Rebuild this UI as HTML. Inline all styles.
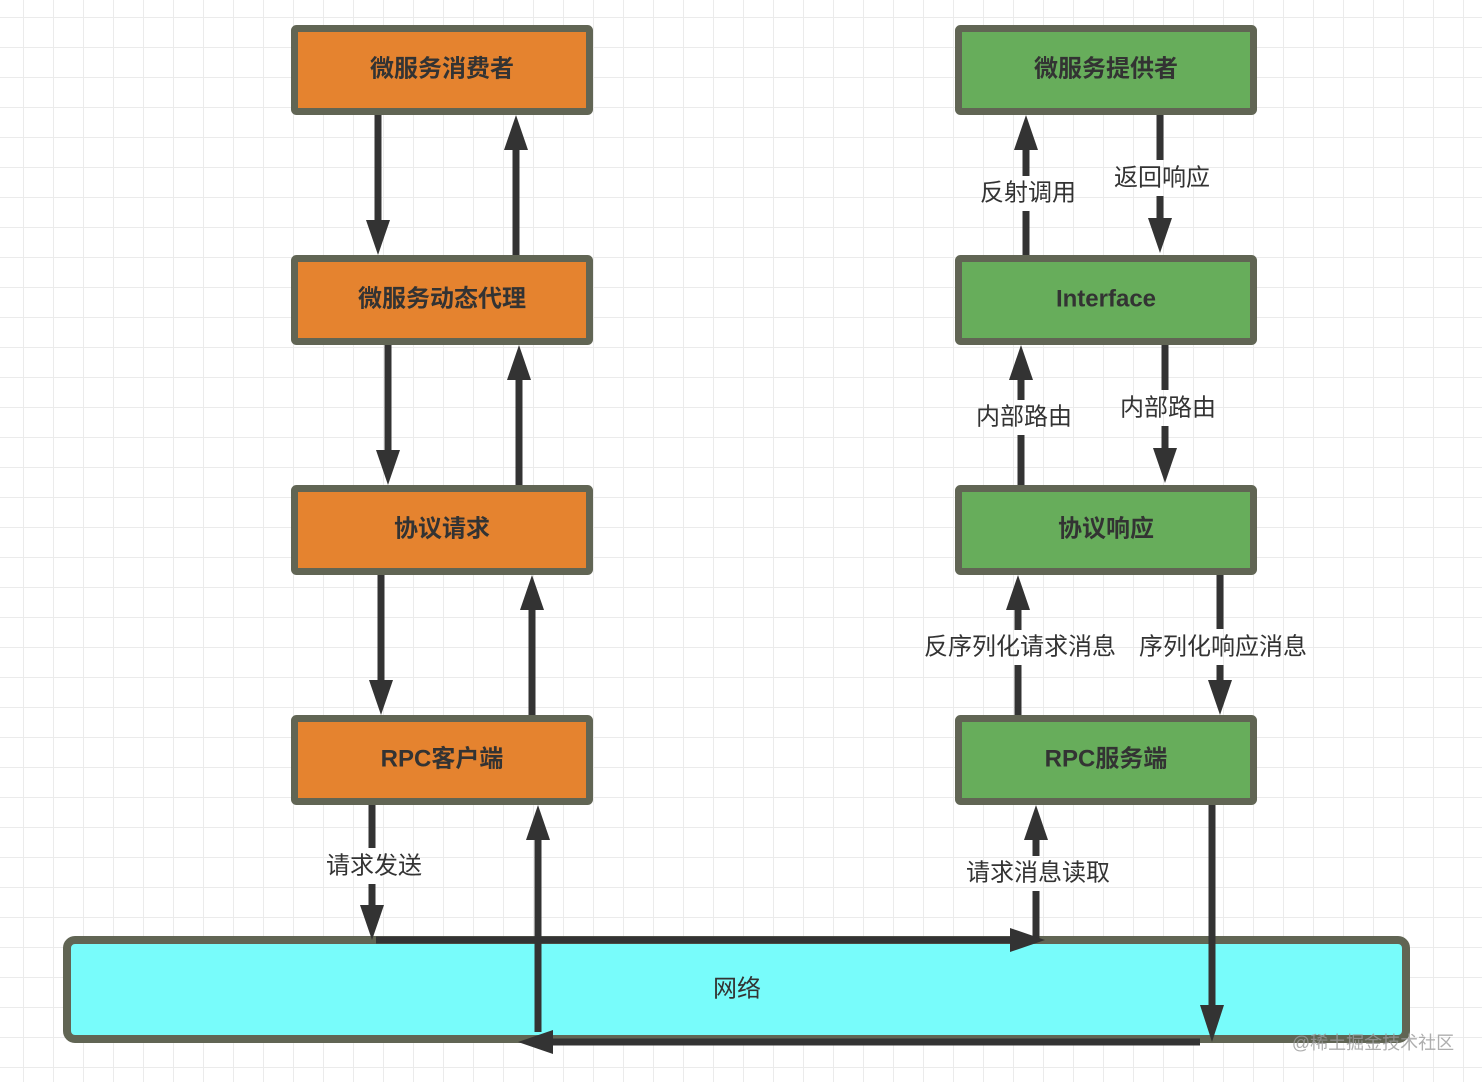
<!DOCTYPE html>
<html><head><meta charset="utf-8"><style>
html,body{margin:0;padding:0;background:#fff;}
svg{display:block;}
text{font-family:"Liberation Sans","Noto Sans CJK SC",sans-serif;}
.bt{font-size:24px;font-weight:bold;fill:#333;text-anchor:middle;dominant-baseline:central;}
.lb{font-size:24px;fill:#333;text-anchor:middle;dominant-baseline:central;}
</style></head><body>
<svg width="1482" height="1082" viewBox="0 0 1482 1082" xmlns="http://www.w3.org/2000/svg">
<defs>
<pattern id="g" x="23" y="17" width="30" height="30" patternUnits="userSpaceOnUse">
<path d="M0 0V30M0 0H30" stroke="#ebebeb" stroke-width="2" fill="none"/>
</pattern>
</defs>
<rect width="1482" height="1082" fill="#fff"/>
<rect width="1482" height="1082" fill="url(#g)"/>

<!-- left boxes -->
<g stroke="#616554" stroke-width="7" fill="#e5832f">
<rect x="294.5" y="28.5" width="295" height="83" rx="2"/>
<rect x="294.5" y="258.5" width="295" height="83" rx="2"/>
<rect x="294.5" y="488.5" width="295" height="83" rx="2"/>
<rect x="294.5" y="718.5" width="295" height="83" rx="2"/>
</g>
<g stroke="#616554" stroke-width="7" fill="#67ad5b">
<rect x="958.5" y="28.5" width="295" height="83" rx="2"/>
<rect x="958.5" y="258.5" width="295" height="83" rx="2"/>
<rect x="958.5" y="488.5" width="295" height="83" rx="2"/>
<rect x="958.5" y="718.5" width="295" height="83" rx="2"/>
</g>
<rect x="67" y="940" width="1339" height="99" rx="8" fill="#78fcfb" stroke="#616554" stroke-width="8"/>

<text class="bt" x="442" y="69">微服务消费者</text>
<text class="bt" x="442" y="299">微服务动态代理</text>
<text class="bt" x="442" y="529">协议请求</text>
<text class="bt" x="442" y="759">RPC客户端</text>
<text class="bt" x="1106" y="69">微服务提供者</text>
<text class="bt" x="1106" y="299">Interface</text>
<text class="bt" x="1106" y="529">协议响应</text>
<text class="bt" x="1106" y="759">RPC服务端</text>
<text class="lb" x="737" y="989">网络</text>

<g stroke="#333" stroke-width="7" fill="none">
<!-- left column -->
<line x1="378" y1="115" x2="378" y2="225"/>
<line x1="516" y1="255" x2="516" y2="145"/>
<line x1="388" y1="345" x2="388" y2="455"/>
<line x1="519" y1="485" x2="519" y2="375"/>
<line x1="381" y1="575" x2="381" y2="685"/>
<line x1="532" y1="715" x2="532" y2="605"/>
<line x1="372" y1="805" x2="372" y2="848"/>
<line x1="372" y1="884" x2="372" y2="910"/>
<line x1="538" y1="1032" x2="538" y2="835"/>
<line x1="376" y1="940" x2="1015" y2="940"/>
<line x1="1200" y1="1042" x2="550" y2="1042"/>
<!-- right column -->
<line x1="1026" y1="255" x2="1026" y2="211"/>
<line x1="1026" y1="176" x2="1026" y2="145"/>
<line x1="1160" y1="115" x2="1160" y2="160"/>
<line x1="1160" y1="196" x2="1160" y2="222"/>
<line x1="1021" y1="485" x2="1021" y2="435"/>
<line x1="1021" y1="400" x2="1021" y2="375"/>
<line x1="1165" y1="345" x2="1165" y2="390"/>
<line x1="1165" y1="426" x2="1165" y2="452"/>
<line x1="1018" y1="715" x2="1018" y2="665"/>
<line x1="1018" y1="630" x2="1018" y2="605"/>
<line x1="1220" y1="575" x2="1220" y2="629"/>
<line x1="1220" y1="665" x2="1220" y2="682"/>
<line x1="1036" y1="940" x2="1036" y2="891"/>
<line x1="1036" y1="856" x2="1036" y2="835"/>
<line x1="1212" y1="805" x2="1212" y2="1010"/>
</g>
<g fill="#333">
<polygon points="378,255 366,220 390,220"/>
<polygon points="516,115 504,150 528,150"/>
<polygon points="388,485 376,450 400,450"/>
<polygon points="519,345 507,380 531,380"/>
<polygon points="381,715 369,680 393,680"/>
<polygon points="532,575 520,610 544,610"/>
<polygon points="372,940 360,905 384,905"/>
<polygon points="538,805 526,840 550,840"/>
<polygon points="1045,940 1010,928 1010,952"/>
<polygon points="518,1042 553,1030 553,1054"/>
<polygon points="1026,115 1014,150 1038,150"/>
<polygon points="1160,253 1148,218 1172,218"/>
<polygon points="1021,345 1009,380 1033,380"/>
<polygon points="1165,483 1153,448 1177,448"/>
<polygon points="1018,575 1006,610 1030,610"/>
<polygon points="1220,715 1208,680 1232,680"/>
<polygon points="1036,805 1024,840 1048,840"/>
<polygon points="1212,1042 1200,1005 1224,1005"/>
</g>

<text class="lb" x="374" y="866">请求发送</text>
<text class="lb" x="1028" y="193">反射调用</text>
<text class="lb" x="1162" y="178">返回响应</text>
<text class="lb" x="1024" y="417">内部路由</text>
<text class="lb" x="1168" y="408">内部路由</text>
<text class="lb" x="1020" y="647">反序列化请求消息</text>
<text class="lb" x="1223" y="647">序列化响应消息</text>
<text class="lb" x="1038" y="873">请求消息读取</text>
<text x="1373" y="1043" style="font-size:18px;fill:#9a9a9a;text-anchor:middle;dominant-baseline:central;opacity:0.8">@稀土掘金技术社区</text>
</svg>
</body></html>
